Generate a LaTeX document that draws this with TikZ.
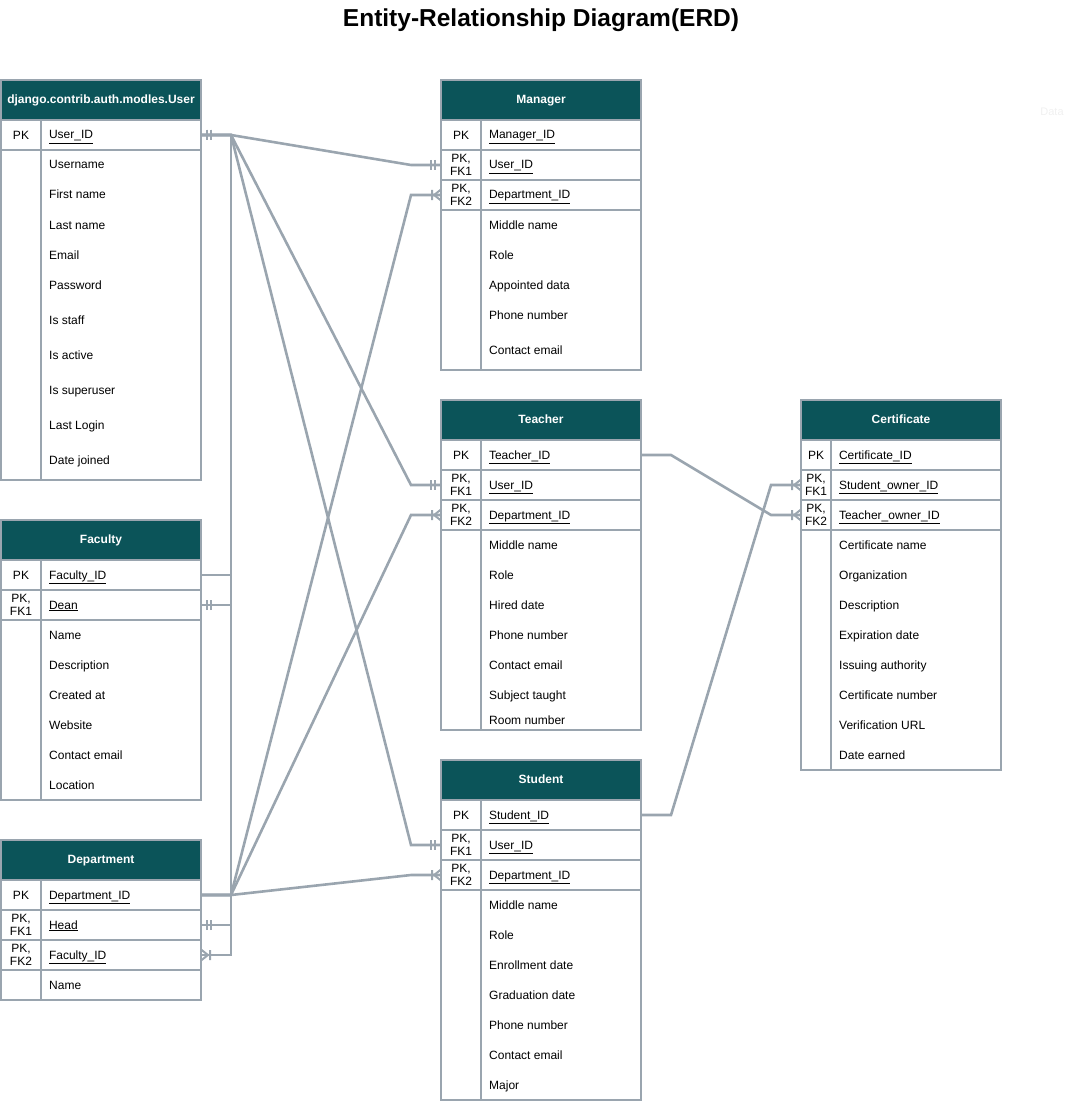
\documentclass[tikz,border=0pt]{standalone}
\usepackage{fontspec}
\setmainfont{Liberation Sans}
\usepackage{tikz}
\usetikzlibrary{positioning,decorations.markings}
\usepackage{xcolor}
\definecolor{erGray}{HTML}{9AA5AF}
\definecolor{erTeal}{HTML}{0B5459}
\newcommand{\keyfld}[1]{\underline{#1}}

\begin{document}
\begin{tikzpicture}[x=1pt, y=-1pt,
  erline/.style={draw=erGray, line width=2.6pt, outer sep=0pt},
  hdr/.style={erline, fill=erTeal, text=white, font=\bfseries\fontsize{12}{14}\selectfont,
    text height=9.6pt, text depth=2.4pt,
    minimum width=200pt, minimum height=40pt, inner sep=0pt, anchor=north west},
  keycell/.style={erline, fill=white, minimum width=40pt, minimum height=30pt, inner sep=0pt,
    align=center, font=\fontsize{12}{12.5}\selectfont},
  idcell/.style={erline, fill=white, minimum height=30pt, text width=144pt, inner xsep=8pt,
    inner ysep=0pt, text height=10pt, text depth=2pt, align=left, font=\fontsize{12}{13}\selectfont},
  body/.style={erline, fill=white, minimum width=200pt, inner sep=0pt},
  fld/.style={anchor=west, inner sep=0pt, text height=10pt, text depth=2pt, font=\fontsize{12}{13}\selectfont},
  conn/.style={draw=erGray, line width=2.6pt},
  tick/.style={draw=erGray, line width=2pt},
  onestart/.style={postaction={decorate, decoration={markings,
    mark=at position 0 with {\draw[tick] (6,-5) -- (6,5) (10,-5) -- (10,5);}}}},
  oneend/.style={postaction={decorate, decoration={markings,
    mark=at position 1 with {\draw[tick] (-6,-5) -- (-6,5) (-10,-5) -- (-10,5);}}}},
  crowend/.style={postaction={decorate, decoration={markings,
    mark=at position 1 with {\draw[tick] (-9,-5) -- (-9,5) (-7,0) -- (0,-5.5) (-7,0) -- (0,5.5);}}}}]
\useasboundingbox (0,0) rectangle (1077,1102);

\node[font=\bfseries\fontsize{24.5}{26}\selectfont] (title) at (541,20) {Entity-Relationship Diagram(ERD)};
\node[text=black!6, font=\fontsize{11}{12}\selectfont] (watermark) at (1052,112) {Data};

% User
\node[hdr] (user) at (1,80) {django.contrib.auth.modles.User};
\node[keycell, below=0pt of user.south west, anchor=north west] (user-pk) {PK};
\node[idcell, right=0pt of user-pk] (user-id) {\keyfld{User\_ID}};
\node[body, minimum height=330pt, below=0pt of user-pk.south west, anchor=north west] (user-body) {};
\draw[erline] ([xshift=40pt]user-body.north west) -- ([xshift=40pt]user-body.south west);
\foreach \dy/\txt in {15/Username, 45/First name, 75/Last name, 105/Email, 135/Password,
  170/Is staff, 205/Is active, 240/Is superuser, 275/Last Login, 310/Date joined}
  \node[fld] (user-f\dy) at ([shift={(48,\dy)}]user-body.north west) {\txt};

% Faculty
\node[hdr] (fac) at (1,520) {Faculty};
\node[keycell, below=0pt of fac.south west, anchor=north west] (fac-pk) {PK};
\node[idcell, right=0pt of fac-pk] (fac-id) {\keyfld{Faculty\_ID}};
\node[keycell, below=0pt of fac-pk] (fac-k1) {PK,\\FK1};
\node[idcell, right=0pt of fac-k1] (fac-dean) {\keyfld{Dean}};
\node[body, minimum height=180pt, below=0pt of fac-k1.south west, anchor=north west] (fac-body) {};
\draw[erline] ([xshift=40pt]fac-body.north west) -- ([xshift=40pt]fac-body.south west);
\foreach \dy/\txt in {15/Name, 45/Description, 75/Created at, 105/Website, 135/Contact email, 165/Location}
  \node[fld] (fac-f\dy) at ([shift={(48,\dy)}]fac-body.north west) {\txt};

% Department
\node[hdr] (dep) at (1,840) {Department};
\node[keycell, below=0pt of dep.south west, anchor=north west] (dep-pk) {PK};
\node[idcell, right=0pt of dep-pk] (dep-id) {\keyfld{Department\_ID}};
\node[keycell, below=0pt of dep-pk] (dep-k1) {PK,\\FK1};
\node[idcell, right=0pt of dep-k1] (dep-head) {\keyfld{Head}};
\node[keycell, below=0pt of dep-k1] (dep-k2) {PK,\\FK2};
\node[idcell, right=0pt of dep-k2] (dep-fid) {\keyfld{Faculty\_ID}};
\node[body, minimum height=30pt, below=0pt of dep-k2.south west, anchor=north west] (dep-body) {};
\draw[erline] ([xshift=40pt]dep-body.north west) -- ([xshift=40pt]dep-body.south west);
\node[fld] (dep-f15) at ([shift={(48,15)}]dep-body.north west) {Name};

% Manager
\node[hdr] (mgr) at (441,80) {Manager};
\node[keycell, below=0pt of mgr.south west, anchor=north west] (mgr-pk) {PK};
\node[idcell, right=0pt of mgr-pk] (mgr-id) {\keyfld{Manager\_ID}};
\node[keycell, below=0pt of mgr-pk] (mgr-k1) {PK,\\FK1};
\node[idcell, right=0pt of mgr-k1] (mgr-uid) {\keyfld{User\_ID}};
\node[keycell, below=0pt of mgr-k1] (mgr-k2) {PK,\\FK2};
\node[idcell, right=0pt of mgr-k2] (mgr-did) {\keyfld{Department\_ID}};
\node[body, minimum height=160pt, below=0pt of mgr-k2.south west, anchor=north west] (mgr-body) {};
\draw[erline] ([xshift=40pt]mgr-body.north west) -- ([xshift=40pt]mgr-body.south west);
\foreach \dy/\txt in {15/Middle name, 45/Role, 75/Appointed data, 105/Phone number, 140/Contact email}
  \node[fld] (mgr-f\dy) at ([shift={(48,\dy)}]mgr-body.north west) {\txt};

% Teacher
\node[hdr] (tch) at (441,400) {Teacher};
\node[keycell, below=0pt of tch.south west, anchor=north west] (tch-pk) {PK};
\node[idcell, right=0pt of tch-pk] (tch-id) {\keyfld{Teacher\_ID}};
\node[keycell, below=0pt of tch-pk] (tch-k1) {PK,\\FK1};
\node[idcell, right=0pt of tch-k1] (tch-uid) {\keyfld{User\_ID}};
\node[keycell, below=0pt of tch-k1] (tch-k2) {PK,\\FK2};
\node[idcell, right=0pt of tch-k2] (tch-did) {\keyfld{Department\_ID}};
\node[body, minimum height=200pt, below=0pt of tch-k2.south west, anchor=north west] (tch-body) {};
\draw[erline] ([xshift=40pt]tch-body.north west) -- ([xshift=40pt]tch-body.south west);
\foreach \dy/\txt in {15/Middle name, 45/Role, 75/Hired date, 105/Phone number, 135/Contact email,
  165/Subject taught, 190/Room number}
  \node[fld] (tch-f\dy) at ([shift={(48,\dy)}]tch-body.north west) {\txt};

% Student
\node[hdr] (stu) at (441,760) {Student};
\node[keycell, below=0pt of stu.south west, anchor=north west] (stu-pk) {PK};
\node[idcell, right=0pt of stu-pk] (stu-id) {\keyfld{Student\_ID}};
\node[keycell, below=0pt of stu-pk] (stu-k1) {PK,\\FK1};
\node[idcell, right=0pt of stu-k1] (stu-uid) {\keyfld{User\_ID}};
\node[keycell, below=0pt of stu-k1] (stu-k2) {PK,\\FK2};
\node[idcell, right=0pt of stu-k2] (stu-did) {\keyfld{Department\_ID}};
\node[body, minimum height=210pt, below=0pt of stu-k2.south west, anchor=north west] (stu-body) {};
\draw[erline] ([xshift=40pt]stu-body.north west) -- ([xshift=40pt]stu-body.south west);
\foreach \dy/\txt in {15/Middle name, 45/Role, 75/Enrollment date, 105/Graduation date,
  135/Phone number, 165/Contact email, 195/Major}
  \node[fld] (stu-f\dy) at ([shift={(48,\dy)}]stu-body.north west) {\txt};

% Certificate
\node[hdr] (crt) at (801,400) {Certificate};
\node[keycell, minimum width=30pt, below=0pt of crt.south west, anchor=north west] (crt-pk) {PK};
\node[idcell, text width=154pt, right=0pt of crt-pk] (crt-id) {\keyfld{Certificate\_ID}};
\node[keycell, minimum width=30pt, below=0pt of crt-pk] (crt-k1) {PK,\\FK1};
\node[idcell, text width=154pt, right=0pt of crt-k1] (crt-sid) {\keyfld{Student\_owner\_ID}};
\node[keycell, minimum width=30pt, below=0pt of crt-k1] (crt-k2) {PK,\\FK2};
\node[idcell, text width=154pt, right=0pt of crt-k2] (crt-tid) {\keyfld{Teacher\_owner\_ID}};
\node[body, minimum height=240pt, below=0pt of crt-k2.south west, anchor=north west] (crt-body) {};
\draw[erline] ([xshift=30pt]crt-body.north west) -- ([xshift=30pt]crt-body.south west);
\foreach \dy/\txt in {15/Certificate name, 45/Organization, 75/Description, 105/Expiration date,
  135/Issuing authority, 165/Certificate number, 195/Verification URL, 225/Date earned}
  \node[fld] (crt-f\dy) at ([shift={(38,\dy)}]crt-body.north west) {\txt};

% relations
\draw[conn, onestart, oneend] (user-id.east) -- ++(30,0) -- ([xshift=-30pt]mgr-k1.west) -- (mgr-k1.west);
\draw[conn, onestart, oneend] (user-id.east) -- ++(30,0) -- ([xshift=-30pt]tch-k1.west) -- (tch-k1.west);
\draw[conn, onestart, oneend] (user-id.east) -- ++(30,0) -- ([xshift=-30pt]stu-k1.west) -- (stu-k1.west);
\draw[conn, onestart, oneend] (user-id.east) -- ++(30,0) |- (fac-dean.east);
\draw[conn, onestart, oneend] (user-id.east) -- ++(30,0) |- (dep-head.east);
\draw[conn, crowend] (fac-id.east) -- ++(30,0) |- (dep-fid.east);
\draw[conn, crowend] (dep-id.east) -- ++(30,0) -- ([xshift=-30pt]mgr-k2.west) -- (mgr-k2.west);
\draw[conn, crowend] (dep-id.east) -- ++(30,0) -- ([xshift=-30pt]tch-k2.west) -- (tch-k2.west);
\draw[conn, crowend] (dep-id.east) -- ++(30,0) -- ([xshift=-30pt]stu-k2.west) -- (stu-k2.west);
\draw[conn, crowend] (tch-id.east) -- ++(30,0) -- ([xshift=-30pt]crt-k2.west) -- (crt-k2.west);
\draw[conn, crowend] (stu-id.east) -- ++(30,0) -- ([xshift=-30pt]crt-k1.west) -- (crt-k1.west);
\end{tikzpicture}
\end{document}
